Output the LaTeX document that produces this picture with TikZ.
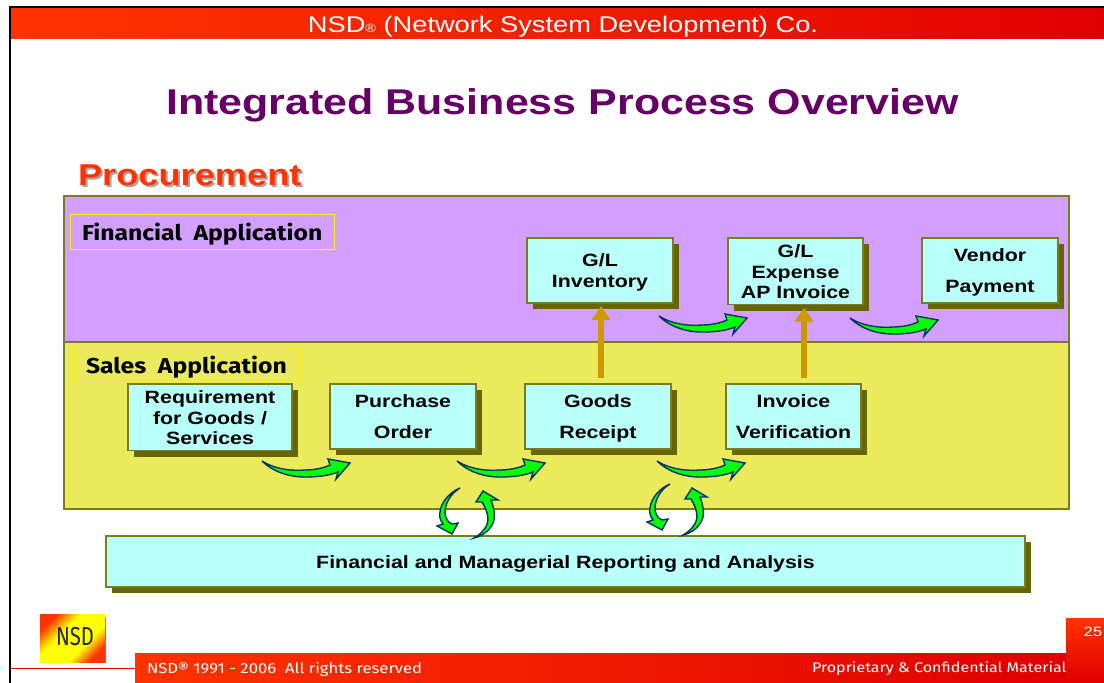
\documentclass[tikz,border=0pt]{standalone}
\usepackage{fontspec}
\setmainfont{Liberation Sans}
\newfontfamily\widef[FakeStretch=1.2]{Liberation Sans}
\newfontfamily\comicf[FakeStretch=1.15]{Fira Sans}
\newfontfamily\logof[FakeStretch=0.78]{Fira Sans}
\usetikzlibrary{arrows.meta,shadows,calc}
\definecolor{redA}{HTML}{FF3300}
\definecolor{redB}{HTML}{E00000}
\definecolor{purpleBand}{HTML}{D29FFF}
\definecolor{yellowBand}{HTML}{EAEA5C}
\definecolor{boxFill}{HTML}{B9FFFA}
\definecolor{shadowOlive}{HTML}{666600}
\definecolor{edgeOlive}{HTML}{7B7B20}
\definecolor{titlePurple}{HTML}{660066}
\definecolor{arrowGold}{HTML}{CC9900}
\definecolor{navyEdge}{HTML}{003366}
\definecolor{arrowGreen}{HTML}{00FF00}
\pgfdeclareverticalshading{logoshade}{100bp}{color(0bp)=(redA); color(25bp)=(redA); color(38bp)=(yellow); color(60bp)=(yellow); color(75bp)=(redA); color(100bp)=(redA)}
\newcommand\topgap{\rule{0pt}{19.5pt}}
\tikzset{
  every node/.append style={outer sep=0pt},
  band/.style={draw=edgeOlive,line width=1.5pt,anchor=north west,inner sep=0pt},
  procbox/.style={draw=edgeOlive,line width=1.5pt,fill=boxFill,anchor=north west,inner sep=0pt,align=center,
    font=\widef\bfseries\fontsize{17.8}{20.5}\selectfont,text=black,
    general shadow={fill=shadowOlive,shadow xshift=6pt,shadow yshift=-6pt}},
  applabel/.style={anchor=north west,inner sep=0pt,line width=1pt,font=\comicf\bfseries\fontsize{21.5}{24}\selectfont,text=black},
  gold/.style={draw=arrowGold,line width=6pt,-{Triangle[length=14pt,width=18pt]}},
  greenarrow/.style={fill=arrowGreen,draw=navyEdge,line width=1.4pt,line join=miter},
  footertext/.style={text=white,font=\comicf\fontsize{14.5}{17}\selectfont,anchor=west,inner sep=0pt},
  pics/hcurve/.style={code={
    \path[greenarrow] (0,0) .. controls (14,9) and (32,10) .. (43,9)
      .. controls (52,9) and (62,7) .. (68,4) -- (66,-2) -- (88,2) -- (74,18) -- (76,11)
      .. controls (66,15) and (54,16) .. (43,16) .. controls (26,16) and (10,10) .. cycle;}},
  pics/downcurve/.style={code={
    \path[greenarrow] (670,484) .. controls (660,490) and (655,500) .. (655,508)
      .. controls (655,513) and (657,518) .. (662,520) -- (668,519) -- (662,530) -- (647,522) -- (653,520)
      .. controls (650,516) and (649,512) .. (650,508) .. controls (651,498) and (660,488) .. cycle;}},
  pics/upcurve/.style={code={
    \path[greenarrow] (683,535) .. controls (692,530) and (697,522) .. (697,517)
      .. controls (697,510) and (694,504) .. (691,499) -- (685,499) -- (692,488) -- (707,497) -- (700,497)
      .. controls (703,505) and (704,511) .. (703,517) .. controls (701,526) and (692,533) .. cycle;}},
}
\begin{document}
\begin{tikzpicture}[x=1pt,y=-1pt]
\useasboundingbox (0,0) rectangle (1104,683);
\fill[white] (0,0) rectangle (1104,683);
% frame
\fill[black] (9,6) rectangle (1104,8);
\fill[black] (9,6) rectangle (11,683);
% header
\node[anchor=north west,inner sep=0pt,minimum width=1093pt,minimum height=30pt,left color=redA,right color=redB,middle color=redA!60!redB] (header) at (11,8) {};
\node[text=white,font=\widef\fontsize{22.7}{25}\selectfont,inner sep=0pt] (headertext) at (563,27) {NSD{\fontsize{12}{12}\selectfont®} (Network System Development) Co.};
% titles
\node[text=titlePurple,font=\widef\bfseries\fontsize{35.8}{42}\selectfont,inner sep=0pt] (title) at (562.5,105.5) {Integrated Business Process Overview};
\node[text=gray!70,font=\widef\bfseries\fontsize{30.2}{36}\selectfont,inner sep=0pt,anchor=west] (procshadow) at (80,177) {Procurement};
\node[text=redA,font=\widef\bfseries\fontsize{30.2}{36}\selectfont,inner sep=0pt,anchor=west] (proc) at (78,175.5) {Procurement};
% bands
\node[band,fill=purpleBand,minimum width=1005pt,minimum height=146pt] (fin) at (64,196) {};
\node[band,fill=yellowBand,minimum width=1005pt,minimum height=167pt] (sales) at (64,342) {};
% band labels
\node[applabel,draw=yellow,minimum width=264pt,minimum height=35pt] (finlabelbox) at (70,214) {};
\node[applabel,anchor=west] (finlabel) at (82,234) {Financial\ \ Application};
\node[applabel,draw=yellow!80!yellowBand,minimum width=226pt,minimum height=32pt] (saleslabelbox) at (74,349) {};
\node[applabel,anchor=west] (saleslabel) at (86,367) {Sales\ \ Application};
% process boxes
\node[procbox,minimum width=146pt,minimum height=65pt] (inv) at (527,238) {\topgap G/L\\[0.5pt]Inventory\strut};
\node[procbox,minimum width=135pt,minimum height=65pt] (exp) at (728,238) {\topgap G/L\\Expense\\AP Invoice\strut};
\node[procbox,minimum width=136pt,minimum height=65pt] (vendor) at (922,238) {\topgap Vendor\\[10.5pt]Payment\strut};
\node[procbox,minimum width=164pt,minimum height=65pt] (req) at (128,384) {\topgap Requirement\\for Goods /\\Services\strut};
\node[procbox,minimum width=146pt,minimum height=65pt] (po) at (330,384) {\topgap Purchase\\[11pt]Order\strut};
\node[procbox,minimum width=146pt,minimum height=65pt] (gr) at (525,384) {\topgap Goods\\[11pt]Receipt\strut};
\node[procbox,minimum width=135pt,minimum height=65pt] (iv) at (726,384) {\topgap Invoice\\[11pt]Verification\strut};
\node[procbox,minimum width=919pt,minimum height=51pt] (report) at (106,536) {\topgap Financial and Managerial Reporting and Analysis\strut};
% gold connectors
\draw[gold] ([xshift=3pt,yshift=6pt]gr.north) -- ([xshift=1pt,yshift=-3pt]inv.south);
\draw[gold] ([xshift=10.5pt,yshift=6pt]iv.north) -- ([xshift=8.5pt,yshift=-3pt]exp.south);
% green arrows
\pic at (262,461) {hcurve};
\pic at (457,461) {hcurve};
\pic at (657,461) {hcurve};
\pic at (659,316) {hcurve};
\pic at (850,318) {hcurve};
\pic at (-210,4) {downcurve};
\pic at (0,0) {downcurve};
\pic at (-209,3) {upcurve};
\pic at (0,0) {upcurve};
% logo
\fill[gray] (43,617) rectangle (106,663);
\node[anchor=north west,inner sep=0pt,minimum width=65pt,minimum height=48pt,shading=logoshade,shading angle=45] (logo) at (40,614) {};
\node[font=\logof\fontsize{26}{28}\selectfont,text=black!85,inner sep=0pt] (logotext) at (75,637) {NSD};
% footer
\coordinate (ruleStart) at (11,668);
\node[anchor=north west,inner sep=0pt,minimum width=932pt,minimum height=30pt,left color=redA,right color=redB] (footer) at (135,653) {};
\draw[red!85!black,line width=1pt] (ruleStart) -- (footer.west |- ruleStart);
\node[anchor=north west,inner sep=0pt,minimum width=38pt,minimum height=65pt,top color=redA,bottom color=redB] (tab) at (1066,618) {};
\node[text=white,font=\widef\fontsize{13.5}{15}\selectfont,inner sep=0pt] (pagenum) at (1093,632) {25};
\node[footertext] (copy) at (147,669) {NSD® 1991 - 2006\ \ All rights reserved};
\node[footertext,font=\comicf\fontsize{14}{17}\selectfont] (conf) at (812,669) {Proprietary \& Confidential Material};
\end{tikzpicture}
\end{document}
